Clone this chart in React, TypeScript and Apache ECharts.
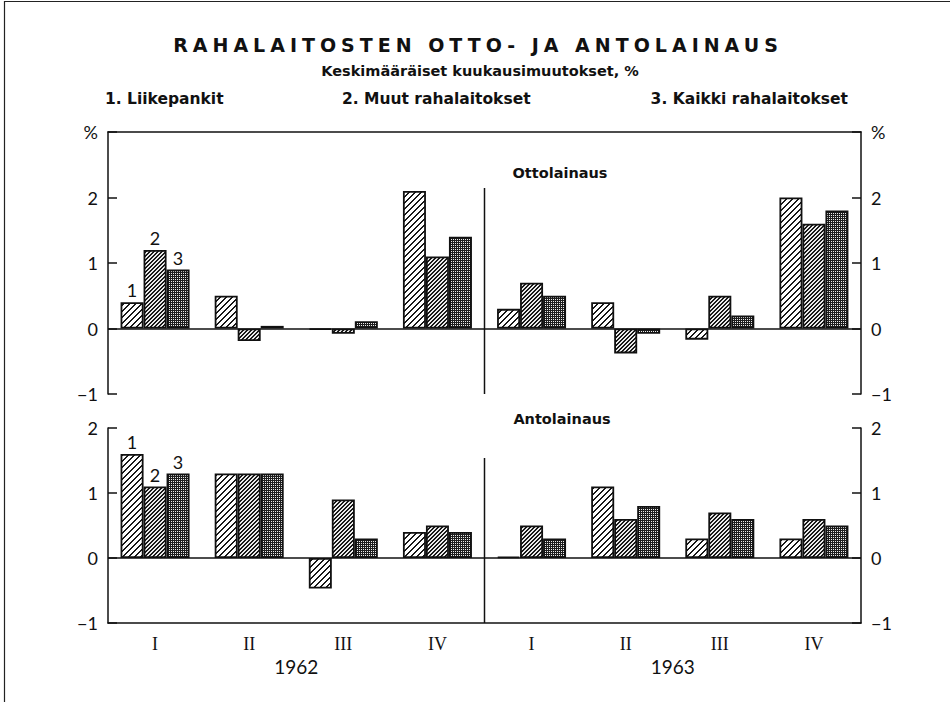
import React, { useEffect, useRef } from 'react';
import * as echarts from 'echarts';

const TITLE = 'RAHALAITOSTEN OTTO- JA ANTOLAINAUS';
const SUBTITLE = 'Keskimääräiset kuukausimuutokset, %';
const seriesNames = ['Liikepankit', 'Muut rahalaitokset', 'Kaikki rahalaitokset'];
const panelNames = ['Ottolainaus', 'Antolainaus'];
const years = ['1962', '1963'];
const quarters = ['I', 'II', 'III', 'IV'];

// Ottolainaus: 1962 I–IV, 1963 I–IV
const ottoLiikepankit = [0.4, 0.5, -0.02, 2.1, 0.3, 0.4, -0.17, 2.0];
const ottoMuut = [1.2, -0.19, -0.08, 1.1, 0.7, -0.38, 0.5, 1.6];
const ottoKaikki = [0.9, 0.04, 0.11, 1.4, 0.5, -0.08, 0.2, 1.8];
// Antolainaus: 1962 I–IV, 1963 I–IV
const antoLiikepankit = [1.6, 1.3, -0.47, 0.4, 0.02, 1.1, 0.3, 0.3];
const antoMuut = [1.1, 1.3, 0.9, 0.5, 0.5, 0.6, 0.7, 0.6];
const antoKaikki = [1.3, 1.3, 0.3, 0.4, 0.3, 0.8, 0.6, 0.5];

const topRange = { min: -1, max: 3 };
const bottomRange = { min: -1, max: 2 };

const categories = years.flatMap((y) => quarters.map((q) => `${q} ${y}`));

const FONT = '"DejaVu Sans", Lato, sans-serif';
const NUMFONT = 'Lato, "DejaVu Sans", sans-serif';
const SERIF = '"Liberation Serif", "DejaVu Serif", serif';

function makeTile(kind: string) {
  const size = kind === 'light' ? 6 : 4;
  const c = document.createElement('canvas');
  c.width = size;
  c.height = size;
  const ctx = c.getContext('2d')!;
  const img = ctx.createImageData(size, size);
  for (let y = 0; y < size; y++) {
    for (let x = 0; x < size; x++) {
      let v = 255;
      if (kind === 'light') v = (x + y) % 6 < 2 ? 25 : 255;
      else if (kind === 'medium') v = (x + y) % 4 < 2 ? 25 : 235;
      else v = x % 2 === 1 && y % 2 === 1 ? 235 : 30;
      const i = (y * size + x) * 4;
      img.data[i] = v;
      img.data[i + 1] = v;
      img.data[i + 2] = v;
      img.data[i + 3] = 255;
    }
  }
  ctx.putImageData(img, 0, 0);
  return { image: c, repeat: 'repeat', imageWidth: size, imageHeight: size };
}

export default function App() {
  const ref = useRef<HTMLDivElement>(null);
  useEffect(() => {
    if (!ref.current) return;
    const chart = echarts.init(ref.current, null, { renderer: 'svg', width: 950, height: 702 });
    const gridLeft = 108;
    const gridRight = 89;
    const gridW = 950 - gridLeft - gridRight;
    const midX = gridLeft + gridW / 2;
    const patterns = [makeTile('light'), makeTile('medium'), makeTile('dark')];
    const topData = [ottoLiikepankit, ottoMuut, ottoKaikki];
    const botData = [antoLiikepankit, antoMuut, antoKaikki];

    const yFmt = (top: number) => (v: number) =>
      v === top ? (top === 3 ? '%' : String(v)) : v < 0 ? '\u2212' + String(-v) : String(v);

    const yAxisBase = (grid: number, pos: 'left' | 'right', r: { min: number; max: number }) => ({
      type: 'value',
      gridIndex: grid,
      position: pos,
      min: r.min,
      max: r.max,
      interval: 1,
      splitLine: { show: false },
      axisLine: { show: true, lineStyle: { color: '#111', width: 1.5 } },
      axisTick: { show: true, inside: true, length: 9, lineStyle: { color: '#111', width: 1.5 } },
      axisLabel: {
        show: true,
        margin: 10,
        fontFamily: NUMFONT,
        fontSize: 18,
        color: '#111',
        formatter: yFmt(r.max),
      },
    });

    const mkSeries = (grid: number, data: number[][]) =>
      data.map((d, si) => ({
        type: 'bar',
        name: seriesNames[si],
        xAxisIndex: grid === 0 ? 0 : 1,
        yAxisIndex: grid === 0 ? 0 : 2,
        data: d,
        barWidth: 23,
        barGap: '0%',
        itemStyle: { color: patterns[si], borderColor: '#111', borderWidth: 1.8 },
        label: {
          show: true,
          position: 'top',
          distance: 3,
          fontFamily: NUMFONT,
          fontSize: 18,
          color: '#111',
          formatter: (p: any) => (p.dataIndex === 0 ? String(si + 1) : ''),
        },
        markLine:
          si === 0
            ? {
                silent: true,
                symbol: 'none',
                label: { show: false },
                lineStyle: { color: '#111', width: 1.5, type: 'solid' },
                data: [{ yAxis: 0 }],
              }
            : undefined,
      }));

    const headText = (text: string, x: number, y: number, size: number, align: string) => ({
      type: 'text',
      silent: true,
      x,
      y,
      style: { text, fontFamily: FONT, fontSize: size, fontWeight: 'bold', fill: '#111', align, verticalAlign: 'middle' },
    });

    const option: any = {
      animation: false,
      backgroundColor: '#fff',
      grid: [
        { left: gridLeft, right: gridRight, top: 132, height: 262 },
        { left: gridLeft, right: gridRight, top: 428, height: 195 },
      ],
      xAxis: [
        {
          type: 'category',
          gridIndex: 0,
          data: categories,
          position: 'top',
          axisLine: { show: true, onZero: false, lineStyle: { color: '#111', width: 1.5 } },
          axisTick: { show: false },
          axisLabel: { show: false },
        },
        {
          type: 'category',
          gridIndex: 1,
          data: categories,
          position: 'bottom',
          axisLine: { show: true, onZero: false, lineStyle: { color: '#111', width: 1.5 } },
          axisTick: { show: false },
          axisLabel: {
            show: true,
            margin: 12,
            fontFamily: SERIF,
            fontSize: 18,
            color: '#111',
            formatter: (v: string) => v.split(' ')[0],
          },
        },
        {
          type: 'category',
          gridIndex: 1,
          data: years,
          position: 'bottom',
          axisLine: { show: false, onZero: false },
          axisTick: { show: false },
          axisLabel: { show: true, margin: 34, fontFamily: NUMFONT, fontSize: 19, color: '#111' },
        },
      ],
      yAxis: [
        yAxisBase(0, 'left', topRange),
        yAxisBase(0, 'right', topRange),
        yAxisBase(1, 'left', bottomRange),
        yAxisBase(1, 'right', bottomRange),
      ],
      series: [...mkSeries(0, topData), ...mkSeries(1, botData)],
      graphic: [
        { type: 'line', silent: true, shape: { x1: 4.5, y1: 1, x2: 4.5, y2: 702 }, style: { stroke: '#222', lineWidth: 1.2 } },
        { type: 'line', silent: true, shape: { x1: 4, y1: 1.5, x2: 950, y2: 1.5 }, style: { stroke: '#222', lineWidth: 1.2 } },
        headText(TITLE, 478, 45, 19, 'center'),
        headText(SUBTITLE, 480, 71, 14.5, 'center'),
        headText(`1. ${seriesNames[0]}`, 105, 99, 15.5, 'left'),
        headText(`2. ${seriesNames[1]}`, 342, 99, 15.5, 'left'),
        headText(`3. ${seriesNames[2]}`, 848, 99, 15.5, 'right'),
        headText(panelNames[0], 560, 173, 14.5, 'center'),
        headText(panelNames[1], 562, 419, 14.5, 'center'),
        { type: 'line', silent: true, shape: { x1: midX, y1: 188, x2: midX, y2: 394 }, style: { stroke: '#111', lineWidth: 1.5 } },
        { type: 'line', silent: true, shape: { x1: midX, y1: 458, x2: midX, y2: 623 }, style: { stroke: '#111', lineWidth: 1.5 } },
      ],
    };
    chart.setOption(option);

    const spaceTitle = () => {
      const svg = ref.current?.querySelector('svg');
      if (!svg) return;
      svg.querySelectorAll('text').forEach((t) => {
        if (t.textContent === TITLE) (t as SVGTextElement).style.letterSpacing = '5px';
      });
    };
    spaceTitle();
    chart.on('finished', spaceTitle);
    const raf = requestAnimationFrame(spaceTitle);

    return () => {
      cancelAnimationFrame(raf);
      chart.dispose();
    };
  }, []);

  return (
    <div
      ref={ref}
      style={{ position: 'absolute', left: 0, top: 0, width: 950, height: 702, background: '#fff' }}
    />
  );
}
